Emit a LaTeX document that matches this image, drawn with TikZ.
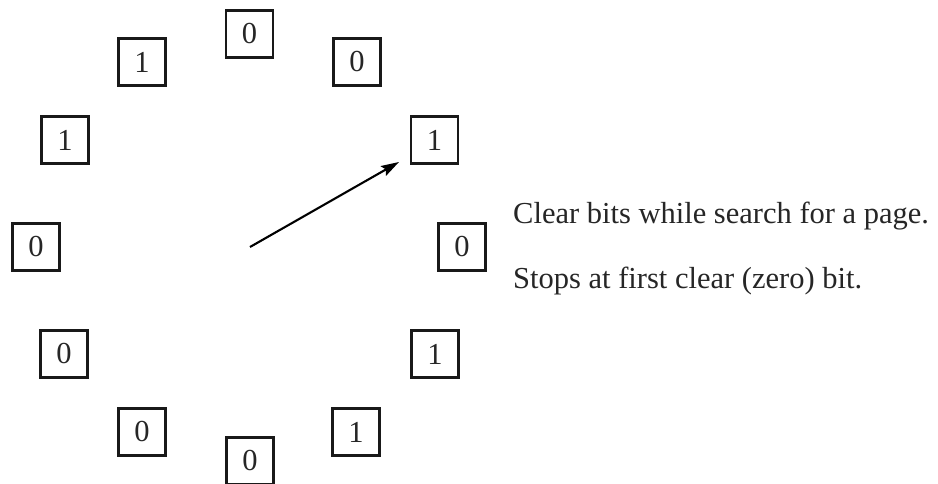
\documentclass[tikz,border=0pt]{standalone}
\usepackage{fontspec}
\setmainfont{Liberation Serif}
\usetikzlibrary{arrows.meta}
\begin{document}
\begin{tikzpicture}[x=1pt,y=-1pt,
  bit/.style={draw=black!90, line width=2.2pt, minimum width=47pt, minimum height=47pt,
    inner sep=0pt, font=\fontsize{30.5}{36}\selectfont, text=black!85},
  note/.style={anchor=base west, inner sep=0pt, font=\fontsize{30.5}{36}\selectfont, text=black!85},
  hand/.style={line width=2.1pt, draw=black, -{Stealth[length=18pt,width=11pt,inset=3pt]}}]
  \useasboundingbox (0,0) rectangle (938,484);
  % clock face of reference bits
  \node[bit] (b00) at (249.5,34)  {0};
  \node[bit] (b01) at (357,62)    {0};
  \node[bit] (b02) at (434.5,140) {1};
  \node[bit] (b03) at (462,247)   {0};
  \node[bit] (b04) at (435,354)   {1};
  \node[bit] (b05) at (356,432)   {1};
  \node[bit] (b06) at (250,461)   {0};
  \node[bit] (b07) at (142,432)   {0};
  \node[bit] (b08) at (64,354)    {0};
  \node[bit] (b09) at (36,247)    {0};
  \node[bit] (b10) at (65,140)    {1};
  \node[bit] (b11) at (142,62)    {1};
  % clock hand
  \coordinate (pivot) at (250,247);
  \coordinate (tip) at (399,162);
  \draw[hand] (pivot) -- (tip);
  % explanation
  \node[note] (n1) at (513,223) {Clear bits while search for a page.};
  \node[note] (n2) at (513,288) {Stops at first clear (zero) bit.};
\end{tikzpicture}
\end{document}
